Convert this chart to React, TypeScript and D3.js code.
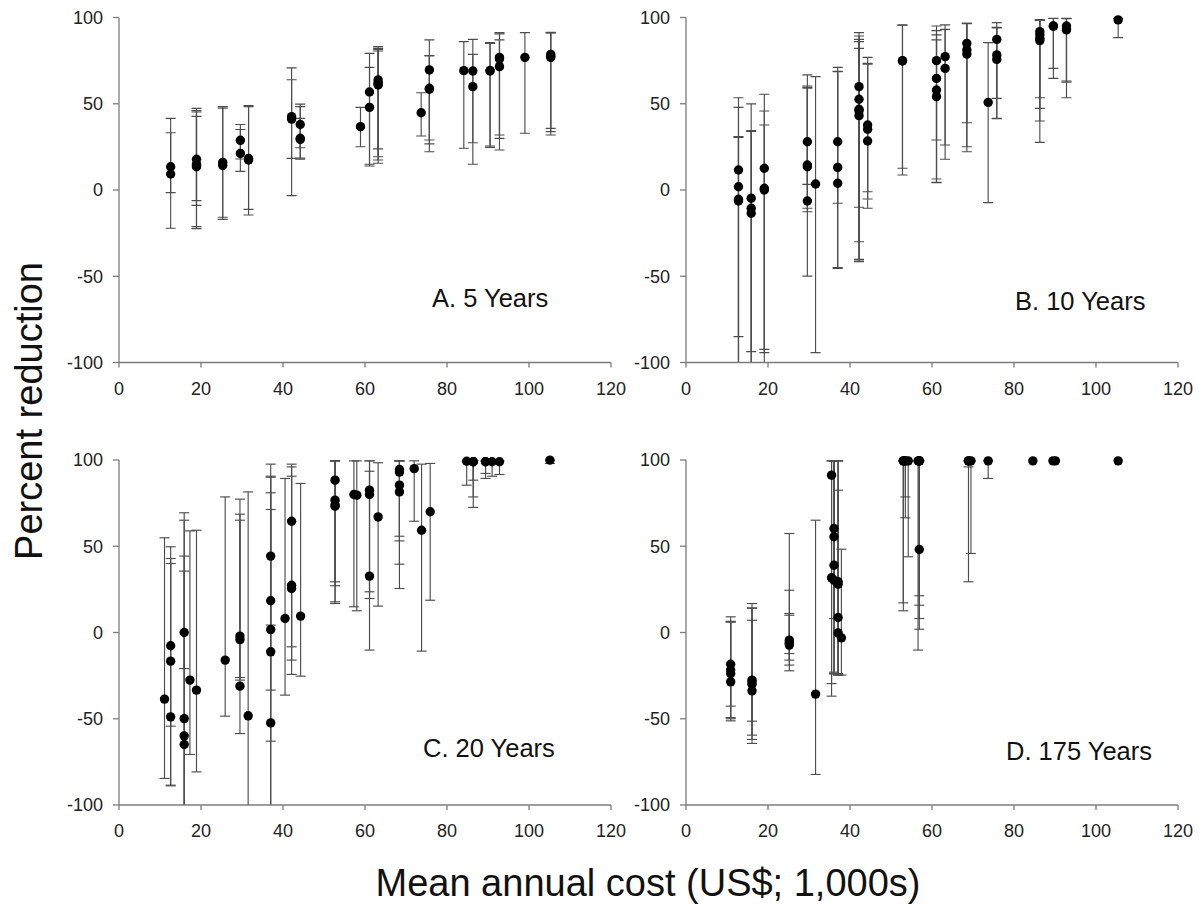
import React from "react";
import * as d3 from "d3";

// Each entry: [cost (US$ 1,000s), percent reduction, lower CI, upper CI]
const panelA: number[][] = [
  [12.6, 13.5, -22.2, 41.5], [12.6, 9.3, -1.5, 33.2],
  [18.9, 17.8, -22.4, 47.3], [18.9, 13.5, -21.2, 45.2], [18.9, 15, -8.9, 42.7], [18.9, 14, -6.2, 46],
  [25.3, 16, -17, 48.3], [25.3, 14.3, -15.8, 47.5],
  [29.6, 28.8, 10.8, 38], [29.6, 21.2, 18, 35.1],
  [31.6, 18.3, -14.5, 49], [31.6, 17.4, -11.2, 48.3],
  [42.1, 42.5, -3.3, 70.8], [42.1, 41.1, 18.3, 63.9],
  [44.2, 38, 24.5, 41.5], [44.2, 29.3, 17.8, 49.8], [44.2, 30, 18.5, 48.3],
  [58.9, 36.7, 25.1, 47.9],
  [61.1, 56.8, 14.9, 79.2], [61.1, 47.9, 13.9, 71.1],
  [63.2, 63.8, 15.5, 83.1], [63.2, 62.2, 17.4, 82.1], [63.2, 60.9, 19.3, 80.6], [63.2, 61.5, 23.8, 81.5],
  [73.7, 44.8, 31.3, 56.4],
  [75.7, 69.6, 22.2, 87], [75.7, 58.4, 26.7, 77.7], [75.7, 59, 29, 78],
  [84.1, 69.2, 24.2, 86],
  [86.3, 69, 14.9, 87.3], [86.3, 59.9, 27.4, 78.6],
  [90.5, 69, 25.5, 85.4], [90.5, 69.3, 24.7, 85],
  [92.8, 76.9, 23.2, 91.2], [92.8, 71.5, 29.9, 87], [92.8, 76, 31.9, 90.5],
  [99, 76.9, 32.9, 91.2],
  [105.3, 78.6, 31.9, 91.4], [105.3, 76.9, 33.8, 91.2], [105.3, 77.5, 35.7, 91],
];

const panelB: number[][] = [
  [12.8, 11.6, -110, 53.5], [12.8, 1.9, -85, 47.9], [12.8, -5.4, -110, 30.9], [12.8, -6.4, -110, 30.5],
  [15.9, -4.8, -110, 49.9], [15.9, -10.6, -93.7, 34.4], [15.9, -13.5, -110, 34],
  [19.1, 12.6, -110, 55.5], [19.1, 1, -92.4, 45.8], [19.1, 0, -94.3, 37.7],
  [29.6, 28, 3.3, 66.7], [29.6, 14.5, -10.6, 60.3], [29.6, 13.5, -12.6, 59.5], [29.6, -6.4, -49.9, 59],
  [31.6, 3.5, -94.3, 65.7],
  [37, 28, -7.7, 71.1], [37, 13.1, -45.4, 68.6], [37, 3.9, -45, 68.8],
  [42.2, 59.9, -10, 91.2], [42.2, 52.6, -30, 89.3], [42.2, 46.8, -40.2, 87.3], [42.2, 43.1, -41.5, 86], [42.2, 46, -40.5, 82.1],
  [44.3, 37.7, -1, 76.9], [44.3, 35.2, -5.2, 73.4], [44.3, 28.4, -10.6, 73],
  [52.8, 74.8, 12.6, 95.7], [52.8, 75, 8.7, 95.5],
  [61.1, 75, 29, 95.1], [61.1, 64.7, 6.4, 92.4], [61.1, 58, 4.3, 89.9], [61.1, 54.1, 4.5, 87],
  [63.2, 77.3, 26.1, 95.7], [63.2, 70.5, 17.8, 93.1],
  [68.5, 85, 39, 96.6], [68.5, 81.2, 25.1, 96.6], [68.5, 78.8, 22.2, 96.4],
  [73.7, 50.8, -7.3, 85.4],
  [75.8, 87.3, 53.1, 97], [75.8, 78.3, 41.5, 94.3], [75.8, 75.7, 41.3, 94],
  [86.3, 91.8, 53.5, 98.6], [86.3, 86.6, 27.6, 98.6], [86.3, 90, 47.3, 98.5], [86.3, 88, 40, 98.4],
  [89.6, 95.1, 70.5, 99.5], [89.6, 95, 64.7, 99.4],
  [92.8, 95.1, 63.2, 99.5], [92.8, 92.8, 53.5, 99.4], [92.8, 93.5, 62.5, 99.3],
  [105.4, 98.6, 88.3, 99.5],
];

const panelC: number[][] = [
  [11.1, -38.6, -84.6, 54.9],
  [12.6, -7.7, -54.3, 42.9], [12.6, -16.6, -88.9, 49.7], [12.6, -48.9, -88.5, 40],
  [15.9, 0, -20.9, 35.6], [15.9, -49.9, -110, 69.4], [15.9, -59.9, -110, 65.1], [15.9, -64.9, -110, 44.3],
  [17.3, -27.6, -70.7, 58.9],
  [18.9, -33.4, -80.8, 59.3],
  [25.9, -16, -48.5, 78.6],
  [29.5, -2.1, -26.1, 68.6], [29.5, -4.1, -27.6, 65.1], [29.5, -31.1, -58.6, 77.3],
  [31.5, -48.3, -110, 81.5],
  [37, 44.3, 4.3, 97.6], [37, 18.4, -33.4, 90.6], [37, 1.7, -63, 81], [37, -11.2, -110, 71.3], [37, -52.4, -110, 90],
  [40.5, 8.1, -36.3, 89.3],
  [42.1, 64.5, -8.3, 97.6], [42.1, 27.4, -16, 96], [42.1, 25.5, -24.3, 90.6],
  [44.3, 9.5, -25.3, 86.4],
  [52.7, 88.3, 29.4, 99.5], [52.7, 76.7, 27.1, 99.5], [52.7, 73.2, 17.8, 99.5], [52.7, 74, 16.8, 99.5],
  [57.3, 80, 14.9, 99.5], [58.0, 79.6, 12.6, 99.5],
  [61.1, 82.5, 23.6, 99.5], [61.1, 80, 19.7, 93.5], [61.1, 32.7, -10.2, 99.5],
  [63.2, 67, 15.3, 98.4],
  [68.4, 94.5, 55.8, 99.5], [68.4, 85.4, 39.6, 99.5], [68.4, 81.5, 25.5, 99.5], [68.4, 93, 53.1, 99.5],
  [72, 95, 64.5, 99.5],
  [73.8, 59.3, -10.8, 97.6],
  [75.9, 70, 18.7, 98],
  [84.8, 99.3, 85.4, 99.5],
  [86.4, 99, 72.5, 99.5], [86.4, 99, 78.6, 99.5], [86.4, 99, 88.3, 99.5],
  [89.4, 99, 89.3, 99.5], [89.4, 99, 92.2, 99.5],
  [91, 99, 90.6, 99.5],
  [92.8, 99, 91.6, 99.5],
  [105.1, 99.9, 98, 100],
];

const panelD: number[][] = [
  [10.9, -18.4, -42.7, 9.1], [10.9, -21.8, -49.3, 6.2], [10.9, -23.8, -51.2, 6.5], [10.9, -28.6, -50, 6],
  [16.1, -27.6, -51.4, 16.8], [16.1, -28.6, -59.5, 14.3], [16.1, -33.8, -64.3, 7.1], [16.1, -30, -62, 14],
  [25.2, -4.4, -22.2, 57.4], [25.2, -6.4, -18.9, 24.5], [25.2, -7.3, -16, 11], [25.2, -5.5, -12.2, 10],
  [31.6, -35.7, -82.3, 65.1],
  [35.5, 91.2, -29.6, 99.5], [35.5, 31.7, -36.9, 99.5],
  [36.1, 60.3, 8.1, 99.5], [36.1, 55.5, -23.8, 99.5], [36.1, 39, -23, 99.5], [36.1, 30.3, -24, 99.5],
  [37.1, 29.4, -23.8, 99.5], [37.1, 28, -24.7, 82.5], [37.1, 8.7, -24.7, 99.5], [37.1, -0.2, -24, 99.5],
  [37.9, -3.1, -24.7, 48.3],
  [53, 99.5, 17.2, 99.5], [53, 99.5, 12.6, 99.5],
  [53.5, 99.5, 78.6, 99.5], [53.5, 99.5, 66.5, 99.5], [54.2, 99.5, 43.9, 99.5],
  [56.6, 99.5, -10.2, 99.5], [56.9, 48.1, 1.9, 99.5], [56.9, 99.5, 8.1, 99.5], [56.9, 99.5, 15.8, 99.5], [56.9, 99.5, 21.3, 99.5],
  [68.9, 99.5, 29.4, 99.5], [68.9, 99.5, 96, 99.5], [69.5, 99.5, 45.8, 99.5],
  [73.7, 99.5, 89.3, 99.5],
  [84.6, 99.5, 99.5, 99.5],
  [89.5, 99.5, 99.5, 99.5], [90.1, 99.5, 99.5, 99.5],
  [105.4, 99.5, 99.5, 99.5],
];

const xTicks = [0, 20, 40, 60, 80, 100, 120];
const yTicks = [100, 50, 0, -50, -100];
const panelTitles = ["A. 5 Years", "B. 10 Years", "C. 20 Years", "D. 175 Years"];
const yTitle = "Percent reduction";
const xTitle = "Mean annual cost (US$; 1,000s)";

const FONT = "'Liberation Sans', Arial, Helvetica, sans-serif";

const layouts = [
  { left: 119, top: 17.5, data: panelA, tx: 432, ty: 307 },
  { left: 686, top: 17.5, data: panelB, tx: 1015, ty: 310 },
  { left: 119, top: 460, data: panelC, tx: 423, ty: 757 },
  { left: 686, top: 460, data: panelD, tx: 1006, ty: 760 },
];

const PW = 492;
const PH = 345;

function Panel({ idx }: { idx: number }) {
  const L = layouts[idx];
  const x = d3.scaleLinear().domain([0, 120]).range([L.left, L.left + PW]);
  const y = d3.scaleLinear().domain([-100, 100]).range([L.top + PH, L.top]);
  const clipId = `clip${idx}`;
  const capHalf = 5;
  const axisColor = "#7c7c7c";
  const barColor = "#4d4d4d";
  return (
    <g>
      <defs>
        <clipPath id={clipId}>
          <rect x={L.left - 10} y={L.top - 10} width={PW + 20} height={PH + 10} />
        </clipPath>
      </defs>
      <g clipPath={`url(#${clipId})`}>
        {L.data.map((d, i) =>
          d[2] === d[3] ? null : (
            <g key={"e" + i} stroke={barColor} strokeWidth={1.15}>
              <line x1={x(d[0])} x2={x(d[0])} y1={y(d[2])} y2={y(d[3])} />
              <line x1={x(d[0]) - capHalf} x2={x(d[0]) + capHalf} y1={y(d[2])} y2={y(d[2])} />
              <line x1={x(d[0]) - capHalf} x2={x(d[0]) + capHalf} y1={y(d[3])} y2={y(d[3])} />
            </g>
          )
        )}
        {L.data.map((d, i) => (
          <circle key={"p" + i} cx={x(d[0])} cy={y(d[1])} r={4.7} fill="#000" />
        ))}
      </g>
      <line x1={x(0)} x2={x(0)} y1={y(100)} y2={y(-100)} stroke={axisColor} strokeWidth={1.3} />
      <line x1={x(0)} x2={x(120)} y1={y(-100)} y2={y(-100)} stroke={axisColor} strokeWidth={1.3} />
      {yTicks.map((t) => (
        <g key={"yt" + t}>
          <line x1={x(0) - 6} x2={x(0)} y1={y(t)} y2={y(t)} stroke={axisColor} strokeWidth={1.3} />
          <text x={x(0) - 16} y={y(t)} dy="0.36em" textAnchor="end" fontSize={18} fontFamily={FONT} fill="#222">
            {t}
          </text>
        </g>
      ))}
      {xTicks.map((t) => (
        <g key={"xt" + t}>
          <line x1={x(t)} x2={x(t)} y1={y(-100)} y2={y(-100) + 5} stroke={axisColor} strokeWidth={1.3} />
          <text x={x(t)} y={y(-100) + 32} textAnchor="middle" fontSize={18} fontFamily={FONT} fill="#222">
            {t}
          </text>
        </g>
      ))}
      <text x={L.tx} y={L.ty} fontSize={25.5} fontFamily={FONT} fill="#111">
        {panelTitles[idx]}
      </text>
    </g>
  );
}

export default function App() {
  return (
    <svg
      width={1203}
      height={908}
      viewBox="0 0 1203 908"
      style={{ position: "absolute", left: 0, top: 0, background: "#fff" }}
    >
      <rect x={0} y={0} width={1203} height={908} fill="#fff" />
      {[0, 1, 2, 3].map((i) => (
        <Panel key={i} idx={i} />
      ))}
      <text
        transform="translate(42,411) rotate(-90)"
        textAnchor="middle"
        fontSize={38}
        fontFamily={FONT}
        fill="#111"
      >
        {yTitle}
      </text>
      <text x={648} y={896} textAnchor="middle" fontSize={38} fontFamily={FONT} fill="#111">
        {xTitle}
      </text>
    </svg>
  );
}
